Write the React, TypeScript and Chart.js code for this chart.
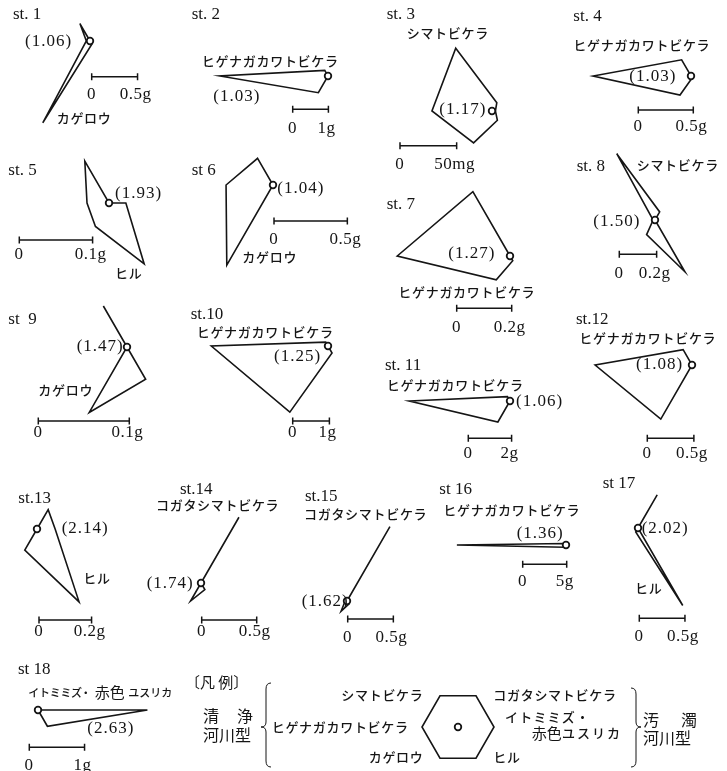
import { useEffect, useRef } from 'react';
import { Chart, registerables } from 'chart.js';

Chart.register(...registerables);

const W = 727;
const H = 771;
const INK = '#151515';
const SERIF = "'Liberation Serif', 'DejaVu Serif', serif";
const GOTHIC = "'Noto Sans CJK JP', sans-serif";
const KANA = `500 13px ${GOTHIC}`;
const KANA_SPACING = 0.7;

// Radar axes, clockwise from the upper-left vertex of the hexagon
const TAXA = ['シマトビケラ', 'コガタシマトビケラ', 'イトミミズ・赤色ユスリカ', 'ヒル', 'カゲロウ', 'ヒゲナガカワトビケラ'];

const STATIONS = ['st. 1', 'st. 2', 'st. 3', 'st. 4', 'st. 5', 'st 6', 'st. 7', 'st. 8', 'st  9', 'st.10', 'st. 11', 'st.12', 'st.13', 'st.14', 'st.15', 'st 16', 'st 17', 'st 18'];

// diversity index of each station
const DIVERSITY = ['1.06', '1.03', '1.17', '1.03', '1.93', '1.04', '1.27', '1.50', '1.47', '1.25', '1.06', '1.08', '2.14', '1.74', '1.62', '1.36', '2.02', '2.63'];

// wet weight (g) per taxon, in TAXA order
const ST1 = [0.22, 0, 0, 0.04, 1.03, 0.04];
const ST2 = [0.18, 0, 0, 0, 0.54, 3.03];
const ST3 = [0.064, 0.0085, 0.003, 0.0095, 0.0325, 0.053];
const ST4 = [0.17, 0, 0.01, 0.02, 0.2, 0.89];
const ST5 = [0.066, 0, 0.023, 0.096, 0.037, 0.03];
const ST6 = [0.21, 0, 0, 0, 0.63, 0.32];
const ST7 = [0.27, 0, 0, 0.02, 0.1, 0.41];
const ST8 = [0.41, 0.05, 0, 0.32, 0.09, 0.01];
const ST9 = [0.052, 0, 0, 0.041, 0.083, 0];
const ST10 = [0.12, 0, 0, 0.22, 2.08, 3.18];
const ST11 = [0.23, 0, 0, 0, 1.12, 4.65];
const ST12 = [0.19, 0, 0, 0, 0.67, 1.04];
const ST13 = [0, 0.085, 0.069, 0.32, 0.093, 0];
const ST14 = [0, 0.69, 0, 0.07, 0.19, 0];
const ST15 = [0, 0.94, 0, 0.04, 0.13, 0.02];
const ST16 = [0.2, 0, 0, 0, 0.3, 12.4];
const ST17 = [0, 0.42, 0, 0.98, 0.05, 0];
const ST18 = [0, 0, 1.98, 0.34, 0, 0];
const BIOMASS = [ST1, ST2, ST3, ST4, ST5, ST6, ST7, ST8, ST9, ST10, ST11, ST12, ST13, ST14, ST15, ST16, ST17, ST18];

// scale bar of each station
const SCALE_VALUES = [0.5, 1, 0.05, 0.5, 0.1, 0.5, 0.2, 0.2, 0.1, 1, 2, 0.5, 0.2, 0.5, 0.5, 5, 0.5, 1];
const SCALE_LABELS = ['0.5g', '1g', '50mg', '0.5g', '0.1g', '0.5g', '0.2g', '0.2g', '0.1g', '1g', '2g', '0.5g', '0.2g', '0.5g', '0.5g', '5g', '0.5g', '1g'];

// dominant taxon named beside each diagram
const DOMINANT = ['カゲロウ', 'ヒゲナガカワトビケラ', 'シマトビケラ', 'ヒゲナガカワトビケラ', 'ヒル', 'カゲロウ', 'ヒゲナガカワトビケラ', 'シマトビケラ', 'カゲロウ', 'ヒゲナガカワトビケラ', 'ヒゲナガカワトビケラ', 'ヒゲナガカワトビケラ', 'ヒル', 'コガタシマトビケラ', 'コガタシマトビケラ', 'ヒゲナガカワトビケラ', 'ヒル', 'イトミミズ・赤色ユスリカ'];

// page layout of each panel: hexagon centre, pixels per gram, text anchors, scale bar
type Panel = {
  c: [number, number];
  ppg: number;
  title: [number, number];
  idx: [number, number];
  tax: [number, number];
  bar: [number, number];
  lab: number;
};

const PANELS: Panel[] = [
  { c: [90.7, 41.7], ppg: 93.3, title: [13, 15], idx: [25, 41.7], tax: [56.7, 118.3], bar: [91.7, 76.7], lab: 95 },
  { c: [328.3, 76.7], ppg: 35.7, title: [191.7, 15], idx: [213.3, 96.7], tax: [201.7, 60.7], bar: [292.7, 109.3], lab: 128.3 },
  { c: [492.7, 111.7], ppg: 1133, title: [386.7, 15], idx: [439.3, 110], tax: [406.7, 33.3], bar: [400, 145.7], lab: 165 },
  { c: [691, 76], ppg: 110, title: [573.3, 16.7], idx: [629.3, 76.7], tax: [573.3, 45], bar: [638.3, 110], lab: 126.7 },
  { c: [109, 203.3], ppg: 733, title: [8.3, 171], idx: [115, 193.3], tax: [115, 273.3], bar: [19.3, 240], lab: 255 },
  { c: [273.3, 185], ppg: 146.7, title: [191.7, 171], idx: [277.3, 188.3], tax: [242.3, 256.7], bar: [274, 221], lab: 240 },
  { c: [510.7, 256], ppg: 275, title: [386.7, 205], idx: [448.3, 253.3], tax: [398.3, 291.7], bar: [456.7, 308.3], lab: 328 },
  { c: [655, 220], ppg: 186.7, title: [576.7, 166.7], idx: [593.3, 221.7], tax: [636.7, 165], bar: [619.3, 254.3], lab: 273.3 },
  { c: [127.7, 347.7], ppg: 910, title: [8.3, 320], idx: [76.7, 346.7], tax: [38.3, 390], bar: [38.3, 421], lab: 433 },
  { c: [328.3, 346.7], ppg: 36.7, title: [190.7, 315], idx: [274, 356.7], tax: [196.7, 331.7], bar: [292.7, 421], lab: 433 },
  { c: [510.7, 401], ppg: 21.65, title: [385, 365.7], idx: [516, 401.7], tax: [386.7, 385], bar: [468.3, 438.3], lab: 453.3 },
  { c: [692.7, 365], ppg: 94, title: [576, 320], idx: [636, 365], tax: [579.3, 338.3], bar: [647.3, 438.3], lab: 453.3 },
  { c: [37.7, 529], ppg: 268, title: [18.3, 498.3], idx: [61.7, 528.3], tax: [83.3, 578.3], bar: [39, 620], lab: 632 },
  { c: [201, 583.3], ppg: 110, title: [180, 490], idx: [146.7, 583.3], tax: [156, 505], bar: [201.7, 620], lab: 632 },
  { c: [347.7, 601.7], ppg: 91.3, title: [305, 496.7], idx: [301.7, 601.7], tax: [304, 514.3], bar: [347.7, 619], lab: 638 },
  { c: [566, 545.7], ppg: 8.8, title: [439.3, 490], idx: [516.7, 533.3], tax: [443.3, 510], bar: [522.7, 564.3], lab: 581.7 },
  { c: [638.3, 528.3], ppg: 91.3, title: [602.7, 483.3], idx: [641.7, 528.3], tax: [635, 588.3], bar: [639.3, 618.3], lab: 636.7 },
  { c: [38.3, 710], ppg: 55.7, title: [18, 670], idx: [87.3, 728.3], tax: [28.3, 693.3], bar: [29.3, 747.3], lab: 766 },
];

// legend hexagon
const LEGEND_VALUES = [1, 1, 1, 1, 1, 1];
const LEGEND_CENTER: [number, number] = [458.3, 727.3];
const LEGEND_RADIUS = 36;

function put(
  ctx: CanvasRenderingContext2D,
  s: string,
  x: number,
  y: number,
  font: string,
  spacing = 0,
  align: CanvasTextAlign = 'left'
) {
  ctx.font = font;
  (ctx as any).letterSpacing = `${spacing}px`;
  ctx.textAlign = align;
  ctx.textBaseline = 'middle';
  ctx.fillStyle = INK;
  ctx.fillText(s, x, y);
  (ctx as any).letterSpacing = '0px';
}

// "イトミミズ・赤色ユスリカ" set with small kana and larger kanji
function putWormLabel(ctx: CanvasRenderingContext2D, x: number, y: number) {
  put(ctx, 'イトミミズ', x, y, `500 11px ${GOTHIC}`, -0.3);
  put(ctx, '・', x + 52, y, `500 11px ${GOTHIC}`);
  put(ctx, '赤色', x + 66.5, y - 1, `15px ${GOTHIC}`);
  put(ctx, 'ユスリカ', x + 100, y, `500 11px ${GOTHIC}`);
}

function ring(ctx: CanvasRenderingContext2D, x: number, y: number) {
  ctx.beginPath();
  ctx.arc(x, y, 3.3, 0, Math.PI * 2);
  ctx.fillStyle = '#fff';
  ctx.fill();
  ctx.lineWidth = 1.8;
  ctx.strokeStyle = INK;
  ctx.stroke();
}

function stationPlugin(i: number) {
  return {
    id: `station${i}`,
    afterDatasetsDraw(chart: any) {
      const ctx: CanvasRenderingContext2D = chart.ctx;
      const r = chart.scales.r;
      const p = PANELS[i];
      ctx.save();
      ring(ctx, r.xCenter, r.yCenter);

      // scale bar, length taken from the radial scale
      const len = r.getDistanceFromCenterForValue(SCALE_VALUES[i]);
      const [bx, by] = p.bar;
      ctx.lineWidth = 1.5;
      ctx.strokeStyle = INK;
      ctx.beginPath();
      ctx.moveTo(bx, by);
      ctx.lineTo(bx + len, by);
      ctx.moveTo(bx, by - 3.5);
      ctx.lineTo(bx, by + 3.5);
      ctx.moveTo(bx + len, by - 3.5);
      ctx.lineTo(bx + len, by + 3.5);
      ctx.stroke();
      put(ctx, '0', bx - 0.5, p.lab, `17px ${SERIF}`, 0, 'center');
      put(ctx, SCALE_LABELS[i], bx + len - 2, p.lab, `17px ${SERIF}`, 0.5, 'center');

      put(ctx, STATIONS[i], p.title[0], p.title[1], `17px ${SERIF}`);
      put(ctx, `(${DIVERSITY[i]})`, p.idx[0], p.idx[1], `17px ${SERIF}`, 1);
      if (DOMINANT[i] === TAXA[2]) {
        putWormLabel(ctx, p.tax[0], p.tax[1]);
      } else {
        put(ctx, DOMINANT[i], p.tax[0], p.tax[1], KANA, KANA_SPACING);
      }
      ctx.restore();
    },
  };
}

function brace(ctx: CanvasRenderingContext2D, x: number, top: number, mid: number, bottom: number, dir: number) {
  // dir = -1 points left, +1 points right
  const w = 5;
  ctx.beginPath();
  ctx.moveTo(x + w * -dir, top);
  ctx.quadraticCurveTo(x, top, x, top + 6);
  ctx.lineTo(x, mid - 5);
  ctx.quadraticCurveTo(x, mid, x + w * dir, mid);
  ctx.quadraticCurveTo(x, mid, x, mid + 5);
  ctx.lineTo(x, bottom - 6);
  ctx.quadraticCurveTo(x, bottom, x + w * -dir, bottom);
  ctx.stroke();
}

const legendPlugin = {
  id: 'legendKey',
  afterDatasetsDraw(chart: any) {
    const ctx: CanvasRenderingContext2D = chart.ctx;
    const r = chart.scales.r;
    ctx.save();
    ring(ctx, r.xCenter, r.yCenter);
    put(ctx, '〔凡 例〕', 185, 682, `15px ${GOTHIC}`);
    put(ctx, '清', 203, 716, `16px ${GOTHIC}`);
    put(ctx, '浄', 237, 716, `16px ${GOTHIC}`);
    put(ctx, '河川型', 203, 735, `16px ${GOTHIC}`);
    ctx.lineWidth = 1;
    ctx.strokeStyle = INK;
    brace(ctx, 266, 683, 727, 767, -1);
    put(ctx, TAXA[0], 423.5, 695, KANA, KANA_SPACING, 'right');
    put(ctx, TAXA[5], 271.7, 727, KANA, KANA_SPACING);
    put(ctx, TAXA[4], 423.5, 757.3, KANA, KANA_SPACING, 'right');
    put(ctx, TAXA[1], 493.3, 695, KANA, KANA_SPACING);
    put(ctx, 'イトミミズ・', 505, 716.7, KANA, 1.2);
    put(ctx, '赤色', 531.7, 733.3, `15px ${GOTHIC}`);
    put(ctx, 'ユスリカ', 562, 733.3, KANA, 2);
    put(ctx, TAXA[3], 493.3, 757.3, KANA, KANA_SPACING);
    brace(ctx, 636, 688, 727, 767, 1);
    put(ctx, '汚', 643, 720, `16px ${GOTHIC}`);
    put(ctx, '濁', 681, 720, `16px ${GOTHIC}`);
    put(ctx, '河川型', 643, 738, `16px ${GOTHIC}`);
    ctx.restore();
  },
};

function radarConfig(values: number[], cx: number, cy: number, R: number, max: number, plugin: any): any {
  return {
    type: 'radar',
    data: {
      labels: TAXA,
      datasets: [
        {
          data: values,
          borderColor: INK,
          borderWidth: 1.6,
          backgroundColor: 'rgba(0,0,0,0)',
          fill: false,
          pointRadius: 0,
          pointHoverRadius: 0,
          tension: 0,
          clip: false,
          borderJoinStyle: 'miter',
        },
      ],
    },
    options: {
      animation: false,
      responsive: false,
      maintainAspectRatio: false,
      devicePixelRatio: 1,
      events: [],
      layout: { padding: { left: cx - R, top: cy - R, right: W - cx - R, bottom: H - cy - R } },
      plugins: { legend: { display: false }, tooltip: { enabled: false }, title: { display: false } },
      scales: {
        r: {
          min: 0,
          max,
          startAngle: 330,
          grid: { display: false },
          angleLines: { display: false },
          pointLabels: { display: false },
          ticks: { display: false },
        },
      },
    },
    plugins: [plugin],
  };
}

export default function App() {
  const refs = useRef<(HTMLCanvasElement | null)[]>([]);

  useEffect(() => {
    const charts: Chart[] = [];
    BIOMASS.forEach((vals, i) => {
      const canvas = refs.current[i];
      if (!canvas) return;
      const p = PANELS[i];
      const [cx, cy] = p.c;
      const R = Math.max(8, Math.min(50, cx, cy, W - cx, H - cy) - 1);
      charts.push(new Chart(canvas, radarConfig(vals, cx, cy, R, R / p.ppg, stationPlugin(i))));
    });
    const lc = refs.current[BIOMASS.length];
    if (lc) {
      const [cx, cy] = LEGEND_CENTER;
      charts.push(new Chart(lc, radarConfig(LEGEND_VALUES, cx, cy, LEGEND_RADIUS, 1, legendPlugin)));
    }
    return () => charts.forEach((c) => c.destroy());
  }, []);

  return (
    <div
      style={{
        position: 'fixed',
        left: 0,
        top: 0,
        width: W,
        height: H,
        background: '#fff',
        overflow: 'hidden',
      }}
    >
      {Array.from({ length: BIOMASS.length + 1 }, (_, i) => (
        <canvas
          key={i}
          ref={(el) => {
            refs.current[i] = el;
          }}
          width={W}
          height={H}
          style={{ position: 'absolute', left: 0, top: 0, width: W, height: H }}
        />
      ))}
    </div>
  );
}
